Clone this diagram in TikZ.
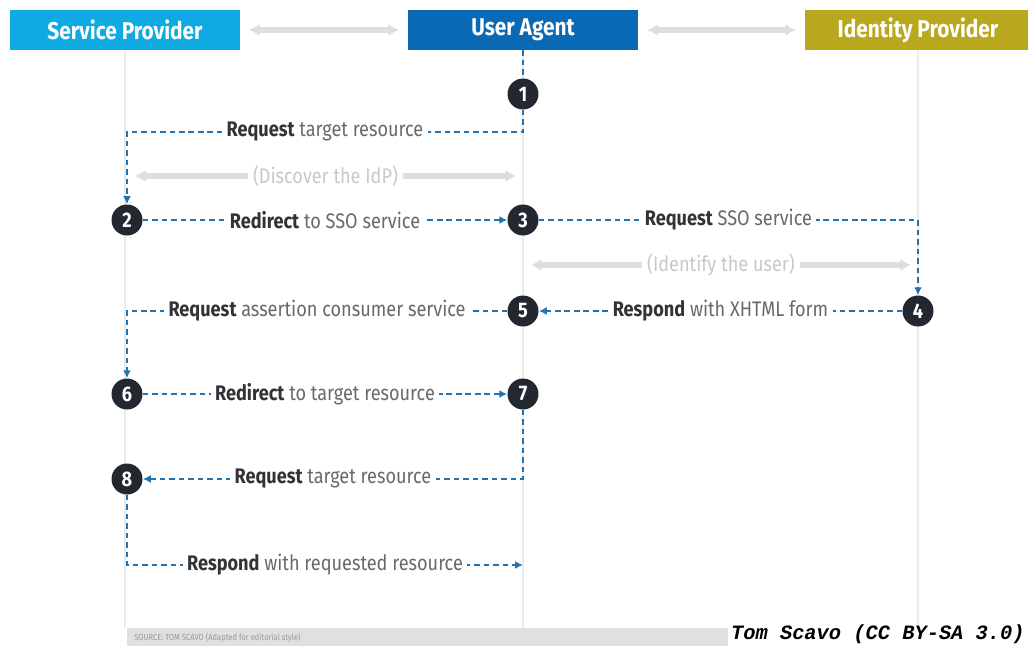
\documentclass[tikz,border=0pt]{standalone}
\usepackage{fontspec}
\setmainfont{Fira Sans}[FakeStretch=0.86]
\newfontfamily\credfont{Liberation Mono}
\usetikzlibrary{arrows.meta}

\definecolor{spcol}{RGB}{14,170,225}
\definecolor{uacol}{RGB}{10,105,180}
\definecolor{idpcol}{RGB}{185,168,30}
\definecolor{numcol}{RGB}{35,40,48}
\definecolor{flowcol}{RGB}{35,115,175}
\definecolor{txtdark}{RGB}{50,50,55}
\definecolor{txtgray}{RGB}{105,105,105}
\definecolor{arrgray}{RGB}{222,222,222}
\definecolor{glbltext}{RGB}{200,200,200}
\definecolor{lifecol}{RGB}{235,235,235}
\definecolor{barcol}{RGB}{224,224,224}

\newcommand{\acc}[2]{{\bfseries\color{txtdark}#1} #2}

\tikzset{
  hdr/.style={minimum width=4.6cm, minimum height=0.8cm, inner sep=0pt, text=white,
    font=\fontsize{13.8}{15}\selectfont\bfseries},
  num/.style={circle, fill=numcol, text=white, minimum size=0.62cm, inner sep=0pt,
    font=\fontsize{12}{13}\selectfont\bfseries},
  flow/.style={draw=flowcol, line width=1.1pt, dash pattern=on 3.2pt off 2.2pt,
    >={Latex[length=4.5pt,width=4.5pt]}},
  lbl/.style={fill=white, inner sep=2.5pt, text=txtgray, font=\fontsize{12}{14}\selectfont},
  garrow/.style={draw=arrgray, line width=3pt, {Latex[length=6pt,width=7pt]}-{Latex[length=6pt,width=7pt]}},
  glbl/.style={fill=white, inner sep=3pt, text=glbltext, font=\fontsize{12}{14}\selectfont},
  life/.style={draw=lifecol, line width=1pt},
}

\begin{document}
\begin{tikzpicture}[x=0.02cm,y=-0.02cm]
\useasboundingbox[fill=white] (0,0) rectangle (1028,646);
% cabeceras
\node[hdr,fill=spcol] (sp) at (125,30) {Service Provider};
\node[hdr,fill=uacol] (ua) at (523,30) {User Agent};
\node[hdr,fill=idpcol,minimum width=4.52cm] (idp) at (918,30) {Identity Provider};
\draw[garrow,shorten <=5pt,shorten >=5pt] (sp) -- (ua);
\draw[garrow,shorten <=5pt,shorten >=5pt] (ua) -- (idp);
% lineas de vida
\coordinate (bot) at (0,628);
\foreach \h in {sp,ua,idp}
  \draw[life] (\h.south) -- (\h.south |- bot);
% pasos
\foreach \n/\x/\y in {1/523/94,2/127/220,3/523/220,4/918/311,5/523/311,6/127/394,7/523/394,8/127/479}
  \node[num] (s\n) at (\x,\y) {\n};
\coordinate (k1) at (127,132);
\coordinate (e8) at (523,565);
\draw[flow] (ua) -- (s1);
\draw[flow,->] (s1) |- node[lbl,pos=0.75] {\acc{Request}{target resource}} (k1) -- (s2);
\draw[flow,->] (s2) -- node[lbl] {\acc{Redirect}{to SSO service}} (s3);
\draw[flow,->] (s3) -| node[lbl,pos=0.25] {\acc{Request}{SSO service}} (s4);
\draw[flow,->] (s4) -- node[lbl] {\acc{Respond}{with XHTML form}} (s5);
\draw[flow,->] (s5) -| node[lbl,pos=0.25] {\acc{Request}{assertion consumer service}} (s6);
\draw[flow,->] (s6) -- node[lbl] {\acc{Redirect}{to target resource}} (s7);
\draw[flow,->] (s7) |- node[lbl,pos=0.75] {\acc{Request}{target resource}} (s8);
\draw[flow,->] (s8) |- node[lbl,pos=0.75] {\acc{Respond}{with requested resource}} (e8);
% flechas grises
\coordinate (d1) at (135,176);
\coordinate (d2) at (516,176);
\draw[garrow] (d1) -- node[glbl] {(Discover the IdP)} (d2);
\coordinate (i1) at (531,265);
\coordinate (i2) at (911,265);
\draw[garrow] (i1) -- node[glbl] {(Identify the user)} (i2);
% pie
\fill[barcol] (127,628) rectangle (728,646);
\node[anchor=west,inner sep=0pt,text=black!40,font=\fontsize{5}{6}\selectfont] (src) at (134,638) {SOURCE: TOM SCAVO (Adapted for editorial style)};
\node[anchor=east,inner sep=0pt,font=\credfont\fontsize{11.6}{12}\selectfont\bfseries\itshape] (cred) at (1025,634) {Tom Scavo (CC BY-SA 3.0)};
\end{tikzpicture}
\end{document}
